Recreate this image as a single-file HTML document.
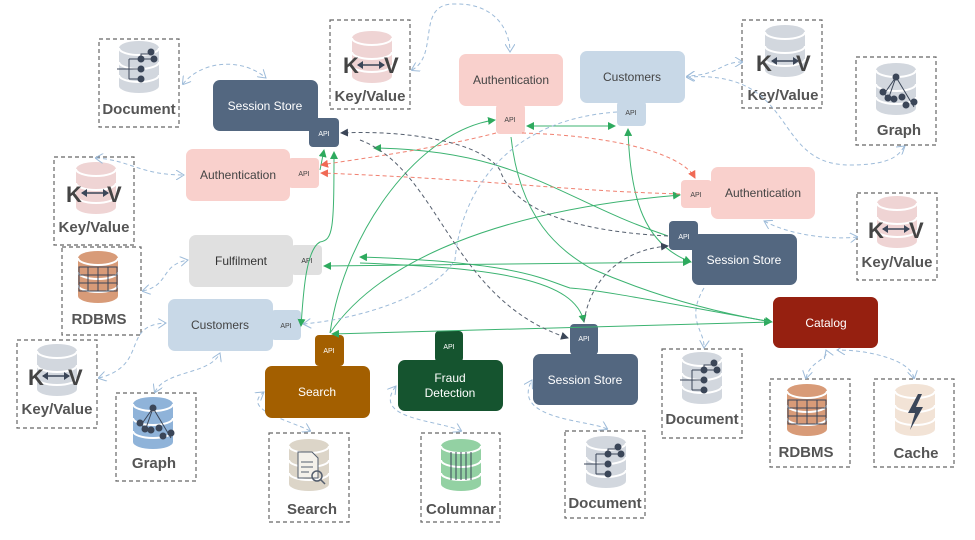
<!DOCTYPE html>
<html><head><meta charset="utf-8"><style>
html,body{margin:0;padding:0;background:#fff;}
svg{display:block;font-family:"Liberation Sans",sans-serif;}
.lbl{font-size:12px;text-anchor:middle;}
.api{font-size:7px;text-anchor:middle;}
.db{font-size:15px;font-weight:bold;fill:#555;text-anchor:middle;}
.kv{font-size:22px;font-weight:bold;fill:#444;}
.box{fill:none;stroke:#666;stroke-width:1.2;stroke-dasharray:4 3;}
.g{fill:none;stroke:#3cb371;stroke-width:1;marker-end:url(#ag);}
.g2{fill:none;stroke:#3cb371;stroke-width:1;marker-end:url(#ag);marker-start:url(#ags);}
.r{fill:none;stroke:#f08070;stroke-width:1;stroke-dasharray:4 3;marker-end:url(#ar);}
.d{fill:none;stroke:#555f6e;stroke-width:1;stroke-dasharray:4 3;marker-end:url(#ad);}
.b{fill:none;stroke:#9dbbd9;stroke-width:1;stroke-dasharray:4 3;marker-end:url(#ab);marker-start:url(#abs);}
.b1{fill:none;stroke:#9dbbd9;stroke-width:1;stroke-dasharray:4 3;marker-end:url(#ab);}
</style></head><body>
<svg width="975" height="540" viewBox="0 0 975 540" xmlns="http://www.w3.org/2000/svg">
<defs>
<marker id="ag" markerWidth="8" markerHeight="8" refX="7" refY="4" orient="auto" markerUnits="userSpaceOnUse"><path d="M0,0 L8,4 L0,8z" fill="#2eaa5e"/></marker>
<marker id="ags" markerWidth="8" markerHeight="8" refX="1" refY="4" orient="auto" markerUnits="userSpaceOnUse"><path d="M8,0 L0,4 L8,8z" fill="#2eaa5e"/></marker>
<marker id="ar" markerWidth="8" markerHeight="8" refX="7" refY="4" orient="auto" markerUnits="userSpaceOnUse"><path d="M0,0 L8,4 L0,8z" fill="#f06a55"/></marker>
<marker id="ad" markerWidth="8" markerHeight="8" refX="7" refY="4" orient="auto" markerUnits="userSpaceOnUse"><path d="M0,0 L8,4 L0,8z" fill="#3b4658"/></marker>
<marker id="ab" markerWidth="9" markerHeight="10" refX="8" refY="5" orient="auto" markerUnits="userSpaceOnUse"><path d="M0,0 L8,5 L0,10" fill="none" stroke="#9dbbd9"/></marker>
<marker id="abs" markerWidth="9" markerHeight="10" refX="1" refY="5" orient="auto" markerUnits="userSpaceOnUse"><path d="M8,0 L0,5 L8,10" fill="none" stroke="#9dbbd9"/></marker>
<g id="cyl">
<path d="M-20,-19 a20,7 0 0,1 40,0 v38 a20,7 0 0,1 -40,0 z" fill="currentColor"/>
<path d="M-20,-19 a20,7 0 0,0 40,0 M-20,-5 a20,7 0 0,0 40,0 M-20,8 a20,7 0 0,0 40,0" fill="none" stroke="#fff" stroke-width="2"/>
</g>
<g id="doc">
<path d="M-22,2 H-10 M-10,-8 V12 M-10,-8 H2 M-10,2 H2 M-10,12 H2 M2,-8 V-13 H12 M2,-8 H14" stroke="#3b4658" stroke-width="1" fill="none"/>
<circle cx="2" cy="-8" r="3.5" fill="#3b4658"/><circle cx="2" cy="2" r="3.5" fill="#3b4658"/><circle cx="2" cy="12" r="3.5" fill="#3b4658"/><circle cx="12" cy="-15" r="3.5" fill="#3b4658"/><circle cx="15" cy="-8" r="3.5" fill="#3b4658"/>
</g>
<g id="graph">
<path d="M0,-15 L-12,2 M0,-15 L-7,5 M0,-15 L18,15 M-12,2 L-8,5" stroke="#3b4658" stroke-width="1" fill="none"/>
<circle cx="0" cy="-15" r="3.5" fill="#3b4658"/><circle cx="-13" cy="0" r="3.5" fill="#3b4658"/><circle cx="-8" cy="6" r="3.5" fill="#3b4658"/><circle cx="-2" cy="7" r="3.5" fill="#3b4658"/><circle cx="6" cy="5" r="3.5" fill="#3b4658"/><circle cx="10" cy="13" r="3.5" fill="#3b4658"/><circle cx="18" cy="10" r="3.5" fill="#3b4658"/>
</g>
<g id="kvarrow"><path d="M-13,0 H13" stroke="#3b4658" stroke-width="1.5"/><path d="M-14,0 l6,-4 v8z M14,0 l-6,-4 v8z" fill="#3b4658"/></g>
<g id="grid"><path d="M-19,-10 H19 V14 H-19 Z M-19,-2 H19 M-19,6 H19 M-10,-10 V14 M0,-10 V14 M10,-10 V14" stroke="#3b4658" stroke-width="1" fill="none"/></g>
</defs>

<!-- DB boxes -->
<rect class="box" x="99" y="39" width="80" height="88"/>
<use href="#cyl" x="139" y="67" color="#d2d7de"/><use href="#doc" x="139" y="67"/>
<text class="db" x="139" y="114">Document</text>

<rect class="box" x="330" y="20" width="80" height="89"/>
<use href="#cyl" x="372" y="57" color="#efd4d4"/><use href="#kvarrow" x="371" y="65"/>
<text class="kv" x="343" y="73">K</text><text class="kv" x="384" y="73">V</text>
<text class="db" x="370" y="101">Key/Value</text>

<rect class="box" x="54" y="157" width="80" height="88"/>
<use href="#cyl" x="96" y="188" color="#efd4d4"/><use href="#kvarrow" x="95" y="193"/>
<text class="kv" x="66" y="202">K</text><text class="kv" x="107" y="202">V</text>
<text class="db" x="94" y="232">Key/Value</text>

<rect class="box" x="62" y="247" width="79" height="88"/>
<use href="#cyl" x="98" y="277" color="#d89b78"/><use href="#grid" x="98" y="277"/>
<text class="db" x="99" y="324">RDBMS</text>

<rect class="box" x="17" y="340" width="80" height="88"/>
<use href="#cyl" x="57" y="370" color="#d2d7de"/><use href="#kvarrow" x="56" y="376"/>
<text class="kv" x="28" y="385">K</text><text class="kv" x="68" y="385">V</text>
<text class="db" x="57" y="414">Key/Value</text>

<rect class="box" x="116" y="393" width="80" height="88"/>
<use href="#cyl" x="153" y="423" color="#8fb3d9"/><use href="#graph" x="153" y="423"/>
<text class="db" x="154" y="468">Graph</text>

<rect class="box" x="269" y="433" width="80" height="89"/>
<use href="#cyl" x="309" y="465" color="#dcd5c8"/>
<path d="M298,452 h14 l6,6 v20 h-20z" fill="#f4f1ea" stroke="#555f6e"/><path d="M301,462 h12 M301,467 h12 M301,472 h8" stroke="#555f6e"/><circle cx="317" cy="476" r="5" fill="none" stroke="#555f6e" stroke-width="1.5"/><path d="M320,479 l5,5" stroke="#555f6e" stroke-width="1.5"/>
<text class="db" x="312" y="514">Search</text>

<rect class="box" x="421" y="433" width="79" height="89"/>
<use href="#cyl" x="461" y="465" color="#93d1a3"/>
<path d="M451,452 v28 M456,452 v28 M461,452 v28 M466,452 v28 M471,452 v28" stroke="#3b4658"/>
<text class="db" x="461" y="514">Columnar</text>

<rect class="box" x="565" y="431" width="80" height="87"/>
<use href="#cyl" x="606" y="462" color="#d2d7de"/><use href="#doc" x="606" y="462"/>
<text class="db" x="605" y="508">Document</text>

<rect class="box" x="662" y="349" width="80" height="89"/>
<use href="#cyl" x="702" y="378" color="#d2d7de"/><use href="#doc" x="702" y="378"/>
<text class="db" x="702" y="424">Document</text>

<rect class="box" x="770" y="379" width="80" height="88"/>
<use href="#cyl" x="807" y="410" color="#d89b78"/><use href="#grid" x="807" y="410"/>
<text class="db" x="806" y="457">RDBMS</text>

<rect class="box" x="874" y="379" width="80" height="88"/>
<use href="#cyl" x="915" y="410" color="#f2e3d6"/>
<path d="M918,394 L908,413 H915 L910,430 L923,407 H916 L922,394z" fill="#3b4658"/>
<text class="db" x="916" y="458">Cache</text>

<rect class="box" x="742" y="20" width="80" height="88"/>
<use href="#cyl" x="785" y="51" color="#d2d7de"/><use href="#kvarrow" x="785" y="61"/>
<text class="kv" x="756" y="71">K</text><text class="kv" x="796" y="71">V</text>
<text class="db" x="783" y="100">Key/Value</text>

<rect class="box" x="856" y="57" width="80" height="88"/>
<use href="#cyl" x="896" y="89" color="#d2d7de"/><use href="#graph" x="896" y="92"/>
<text class="db" x="899" y="135">Graph</text>

<rect class="box" x="857" y="193" width="80" height="87"/>
<use href="#cyl" x="897" y="222" color="#efd4d4"/><use href="#kvarrow" x="896" y="229"/>
<text class="kv" x="868" y="238">K</text><text class="kv" x="909" y="238">V</text>
<text class="db" x="897" y="267">Key/Value</text>

<!-- DB connectors -->
<path class="b" d="M183,84 C200,62 240,56 266,78"/>
<path class="b" d="M412,70 C440,55 415,3 455,4 C495,3 510,30 510,52"/>
<path class="b" d="M96,158 C130,160 140,175 184,175"/>
<path class="b" d="M143,291 C170,285 160,265 188,260"/>
<path class="b" d="M99,378 C150,365 120,325 166,323"/>
<path class="b" d="M155,392 C165,370 210,375 220,353"/>
<path class="b" d="M310,431 C290,420 240,410 264,392"/>
<path class="b" d="M461,431 C440,420 370,420 396,386"/>
<path class="b" d="M607,429 C590,420 510,420 532,380"/>
<path class="b" d="M742,62 C720,62 720,75 687,76"/>
<path class="b" d="M687,77 C800,70 770,165 850,165 C900,165 900,150 905,146"/>
<path class="b" d="M857,237 C830,240 790,235 764,221"/>
<path class="b" d="M806,378 C810,360 830,360 826,350"/>
<path class="b" d="M914,378 C910,360 870,350 837,350"/>
<path class="b1" d="M704,288 C685,320 705,330 704,348"/>

<!-- Services -->
<g fill="#536780"><rect x="213" y="80" width="105" height="51" rx="7"/><rect x="309" y="118" width="30" height="29" rx="4"/></g>
<text class="lbl" x="265" y="110" fill="#fff">Session Store</text><text class="api" x="324" y="136" fill="#fff">API</text>

<g fill="#f9d0cc"><rect x="186" y="149" width="104" height="52" rx="7"/><rect x="288" y="158" width="31" height="30" rx="4"/></g>
<text class="lbl" x="238" y="179" fill="#444">Authentication</text><text class="api" x="304" y="176" fill="#444">API</text>

<g fill="#e0e0e0"><rect x="189" y="235" width="104" height="52" rx="7"/><rect x="291" y="245" width="31" height="30" rx="4"/></g>
<text class="lbl" x="241" y="265" fill="#333">Fulfilment</text><text class="api" x="307" y="263" fill="#333">API</text>

<g fill="#c8d8e7"><rect x="168" y="299" width="105" height="52" rx="7"/><rect x="271" y="310" width="30" height="30" rx="4"/></g>
<text class="lbl" x="220" y="329" fill="#444">Customers</text><text class="api" x="286" y="328" fill="#444">API</text>

<g fill="#a35f00"><rect x="315" y="335" width="29" height="31" rx="4"/><rect x="265" y="366" width="105" height="52" rx="7"/></g>
<text class="lbl" x="317" y="396" fill="#fff">Search</text><text class="api" x="329" y="353" fill="#fff">API</text>

<g fill="#15542f"><rect x="435" y="331" width="28" height="31" rx="4"/><rect x="398" y="360" width="105" height="51" rx="7"/></g>
<text class="lbl" x="450" y="382" fill="#fff">Fraud</text><text class="lbl" x="450" y="397" fill="#fff">Detection</text><text class="api" x="449" y="349" fill="#fff">API</text>

<g fill="#536780"><rect x="570" y="324" width="28" height="31" rx="4"/><rect x="533" y="354" width="105" height="51" rx="7"/></g>
<text class="lbl" x="585" y="384" fill="#fff">Session Store</text><text class="api" x="584" y="341" fill="#fff">API</text>

<g fill="#f9d0cc"><rect x="459" y="54" width="104" height="52" rx="7"/><rect x="496" y="104" width="29" height="30" rx="4"/></g>
<text class="lbl" x="511" y="84" fill="#444">Authentication</text><text class="api" x="510" y="122" fill="#444">API</text>

<g fill="#c8d8e7"><rect x="580" y="51" width="105" height="52" rx="7"/><rect x="617" y="101" width="29" height="25" rx="4"/></g>
<text class="lbl" x="632" y="81" fill="#444">Customers</text><text class="api" x="631" y="115" fill="#444">API</text>

<g fill="#f9d0cc"><rect x="681" y="180" width="31" height="28" rx="4"/><rect x="711" y="167" width="104" height="52" rx="7"/></g>
<text class="lbl" x="763" y="197" fill="#444">Authentication</text><text class="api" x="696" y="197" fill="#444">API</text>

<g fill="#536780"><rect x="669" y="221" width="29" height="29" rx="4"/><rect x="692" y="234" width="105" height="51" rx="7"/></g>
<text class="lbl" x="744" y="264" fill="#fff">Session Store</text><text class="api" x="684" y="239" fill="#fff">API</text>

<rect x="773" y="297" width="105" height="51" rx="7" fill="#962010"/>
<text class="lbl" x="826" y="327" fill="#fff">Catalog</text>

<!-- Service connectors -->
<path class="g" d="M330,333 C345,230 420,130 495,120"/>
<path class="g" d="M330,333 C380,260 500,210 680,195"/>
<path class="g2" d="M771,322 L332,334"/>
<path class="g2" d="M334,152 C334,230 333,240 320,242 C305,250 303,300 301,326"/>
<path class="g" d="M320,170 L324,150"/>
<path class="g" d="M668,236 C560,200 520,150 374,148"/>
<path class="g" d="M511,137 C520,220 560,250 590,268 C640,290 700,310 772,322"/>
<path class="g2" d="M628,129 C630,200 645,245 691,262"/>
<path class="g2" d="M527,126 L615,126"/>
<path class="g2" d="M690,262 L324,266"/>
<path class="g" d="M772,322 C650,300 600,290 570,288 C545,280 520,262 360,257"/>
<path class="g" d="M360,263 C500,268 575,280 584,322"/>
<path class="r" d="M496,133 C430,150 350,160 321,165"/>
<path class="r" d="M680,194 C550,190 500,180 321,173"/>
<path class="r" d="M522,133 C600,135 680,150 695,178"/>
<path class="d" d="M668,236 C550,230 510,200 500,170 C480,140 400,130 341,133"/>
<path class="d" d="M360,140 C440,170 450,300 568,338"/>
<path class="d" d="M584,322 C590,280 620,250 668,246"/>
<path class="b1" d="M617,112 C500,120 460,200 455,260 C430,300 350,320 303,324"/>
</svg>
</body></html>
